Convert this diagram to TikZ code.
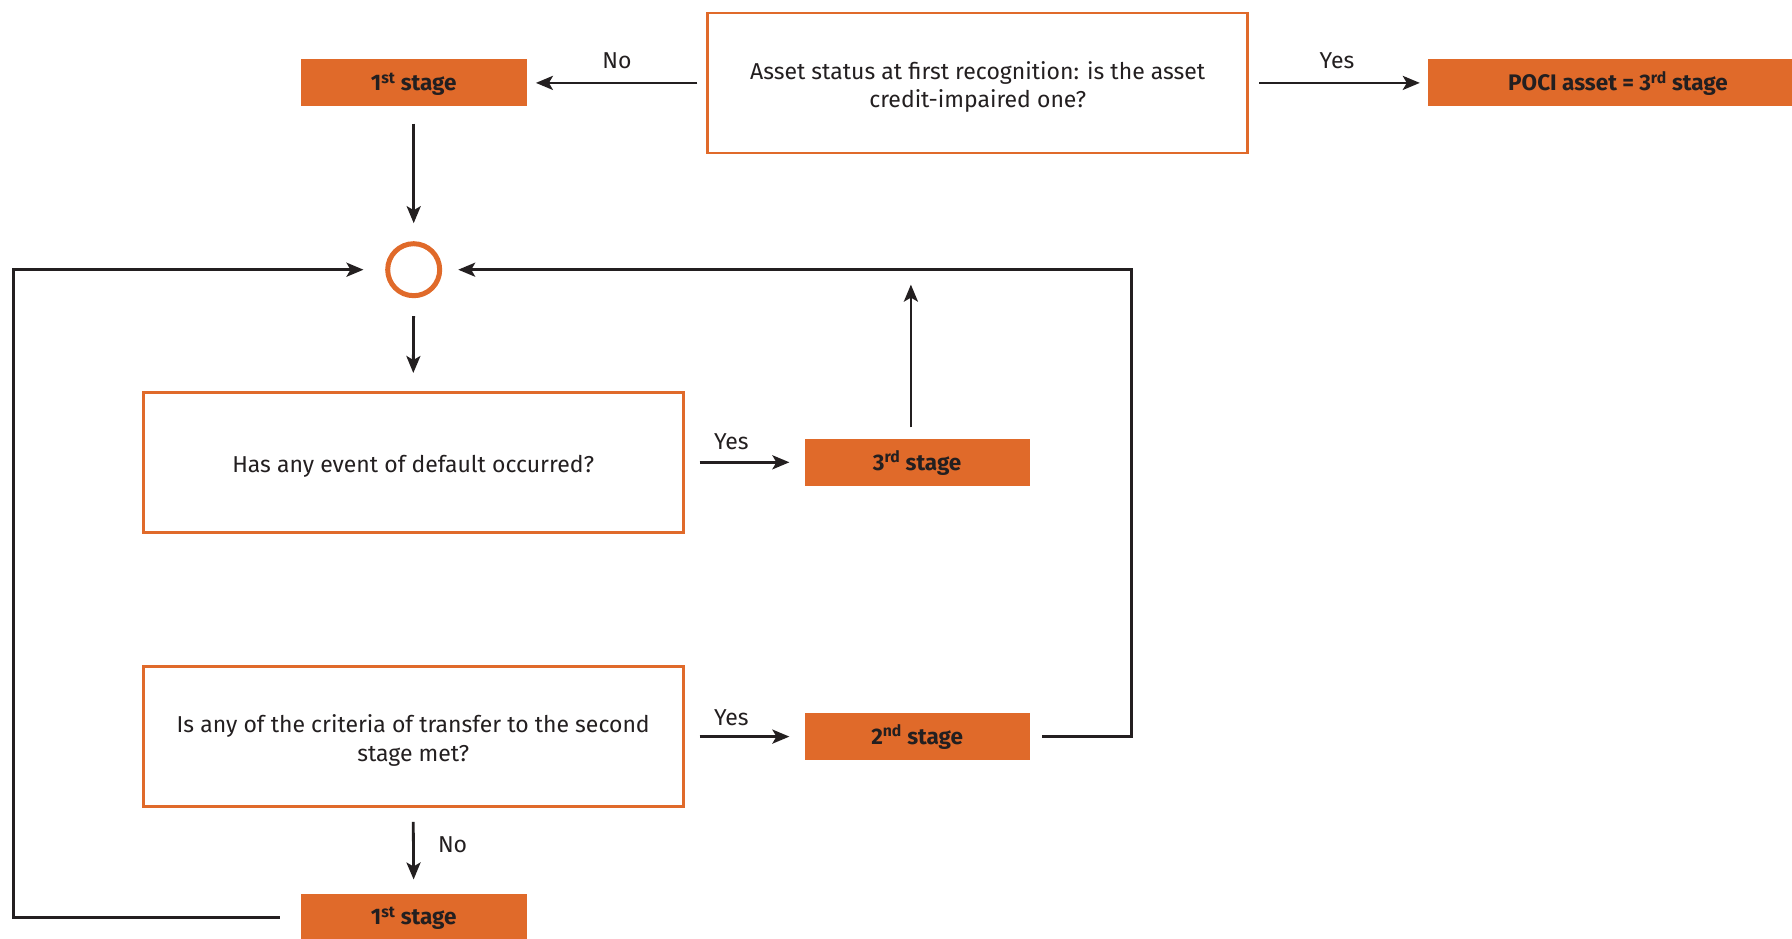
\documentclass[tikz,border=0pt]{standalone}
\usepackage{fontspec}
\setmainfont{Fira Sans}
\usetikzlibrary{arrows.meta}
\definecolor{orng}{RGB}{224,106,42}
\definecolor{ink}{RGB}{35,31,32}
\begin{document}
\begin{tikzpicture}[x=1pt,y=-1pt,
  qbox/.style={draw=orng,line width=2.6pt,fill=white,minimum width=540pt,minimum height=140pt,inner sep=0pt},
  qtext/.style={align=center,font=\fontsize{23}{28.6}\selectfont,text=ink,inner sep=0pt,yshift=-4pt},
  stagebox/.style={fill=orng,minimum width=226pt,minimum height=47pt,inner sep=0pt,text height=18pt,text depth=2.5pt,font=\fontsize{22.5}{24}\selectfont\bfseries,text=ink},
  lbl/.style={font=\fontsize{23}{24}\selectfont,text=ink,inner sep=0pt},
  conn/.style={draw=ink,line width=2.8pt},
  arr/.style={conn,-{Stealth[length=17pt,width=14pt,inset=4pt]}},
]
\useasboundingbox (0,0) rectangle (1792,938);
% nodes
\node[stagebox] (s1top) at (413.7,82.9) {1\textsuperscript{st} stage};
\node[qbox,label={[qtext]center:{Asset status at first recognition: is the asset\\credit-impaired one?}}] (q1) at (977.7,82.9) {};
\node[stagebox,minimum width=380pt] (poci) at (1618,82.9) {POCI asset = 3\textsuperscript{rd} stage};
\node[circle,draw=orng,line width=5pt,minimum size=52pt,inner sep=0pt] (c) at (413.7,269.7) {};
\node[qbox,label={[qtext]center:{Has any event of default occurred?}}] (q2) at (413.2,462.3) {};
\node[stagebox,minimum width=225pt] (s3) at (917.1,462.3) {3\textsuperscript{rd} stage};
\node[qbox,label={[qtext]center:{Is any of the criteria of transfer to the second\\stage met?}}] (q3) at (413.2,736.6) {};
\node[stagebox,minimum width=225pt] (s2) at (917.1,736.6) {2\textsuperscript{nd} stage};
\node[stagebox] (s1bot) at (413.7,917.2) {1\textsuperscript{st} stage};
% coordinates
\coordinate (s3up0) at (910.9,427.4);
\coordinate (s3up1) at (910.9,284.6);
\coordinate (rloop) at (1131.4,736.6);
\coordinate (lloop) at (13.7,917.2);
% connectors
\draw[arr,shorten <=9pt,shorten >=9pt] (q1.west) -- (s1top.east);
\draw[arr,shorten <=10pt,shorten >=8pt] (q1.east) -- (poci.west);
\draw[arr,shorten <=17pt,shorten >=18pt] (s1top.south) -- (c.north);
\draw[arr,shorten <=18pt,shorten >=18pt] (c.south) -- (q2.north);
\draw[arr,shorten <=15pt,shorten >=15pt] (q2.east) -- (s3.west);
\draw[arr,shorten <=15pt,shorten >=15pt] (q3.east) -- (s2.west);
\draw[arr,shorten <=14pt,shorten >=14pt] (q3.south) -- (s1bot.north);
\draw[arr] (s3up0) -- (s3up1);
\draw[arr,shorten <=12.6pt,shorten >=16pt] (s2.east) -- (rloop) |- (c.east);
\draw[arr,shorten <=20.6pt,shorten >=21.7pt] (s1bot.west) -- (lloop) |- (c.west);
% labels
\node[lbl] (lno1) at (617,60.5) {No};
\node[lbl] (lyes1) at (1337,60.5) {Yes};
\node[lbl] (lyes2) at (731.4,442) {Yes};
\node[lbl] (lyes3) at (731.4,717.6) {Yes};
\node[lbl] (lno2) at (452.6,844.4) {No};
\end{tikzpicture}
\end{document}
